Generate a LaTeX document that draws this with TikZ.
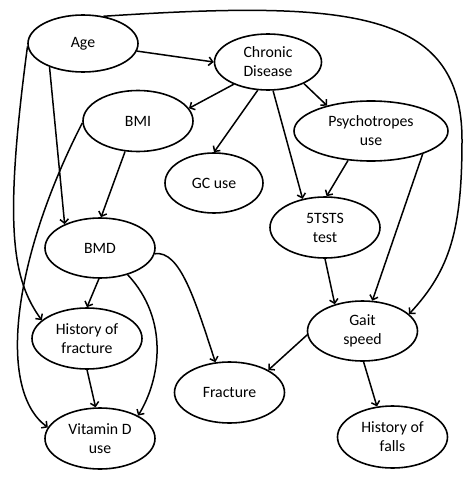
\documentclass[tikz,border=0pt]{standalone}
\usepackage{fontspec}
\setmainfont{Carlito}
\usetikzlibrary{shapes.geometric,arrows.meta}
\begin{document}
\begin{tikzpicture}[x=1pt,y=-1pt,
	var/.style={ellipse,draw,line width=1.6pt,inner sep=0pt,align=center,
		minimum width=110pt,minimum height=60pt,
		font=\fontsize{15.8}{19}\selectfont},
	dep/.style={line width=1.5pt,-{Straight Barb[length=4pt,width=8.5pt,line width=1.5pt]}}]
		\useasboundingbox (0,0) rectangle (474,479);
		
		\node[var,minimum height=57pt] (age) at (83,43.5){Age};
		\node[var,minimum width=107pt,minimum height=56pt] (chron) at (268,62){Chronic\\Disease};
		\node[var,minimum height=61pt] (bmi) at (138,121){BMI};
		\node[var,minimum width=98pt] (gc) at (214,183){GC use};
		\node[var,minimum width=154pt] (psych) at (371,131){Psychotropes\\use};
		\node[var,minimum height=61pt] (tsts) at (325,227.5){5TSTS\\test};
		
		\node[var] (bmd) at (100,248){BMD};
		\node[var,minimum height=61pt] (hfrac) at (87,338.5){History of\\fracture};
		\node[var,minimum height=61pt] (vitd) at (100,438.5){Vitamin D\\use};
		\node[var,minimum height=61pt] (frac) at (229.5,392.5){Fracture};
		\node[var] (gait) at (362.5,331){Gait\\speed};
		\node[var,minimum height=62pt] (hfall) at (392.5,437){History of\\falls};
		
		\draw[dep] (age.-8) -- (chron.west);
		\draw[dep] (age.215) -- (bmd.146);
		\draw[dep] (age.183) .. controls (3,230) and (13,280) .. (hfrac.158);
		\draw[dep] (age.53) .. controls (350,0) and (462,10) .. (462,140) .. controls (462,230) and (450,270) .. (gait.20);
		
		\draw[dep] (chron.213) -- (bmi.14);
		\draw[dep] (chron.250) -- (gc.north);
		\draw[dep] (chron.-80) -- (tsts.128);
		\draw[dep] (chron.-31) -- (psych.150);
		
		\draw[dep] (bmi.182) .. controls (12,260) and (-3,390) .. (vitd.168);
		\draw[dep] (bmi.-113) -- (bmd.88);
		
		\draw[dep] (psych.-128) -- (tsts.87);
		\draw[dep] (psych.-24) -- (gait.72);
		\draw[dep] (tsts.south) -- (gait.136);
		
		\draw[dep] (bmd.-92) -- (hfrac.north);
		\draw[dep] (bmd.-44) .. controls (170,320) and (160,380) .. (vitd.31);
		\draw[dep] (bmd.-6) .. controls (180,250) and (195,300) .. (frac.115);
		\draw[dep] (hfrac.south) -- (vitd.98);
		
		\draw[dep] (gait.184) -- (frac.30);
		\draw[dep] (gait.-88) -- (hfall.117);
	\end{tikzpicture}
\end{document}
